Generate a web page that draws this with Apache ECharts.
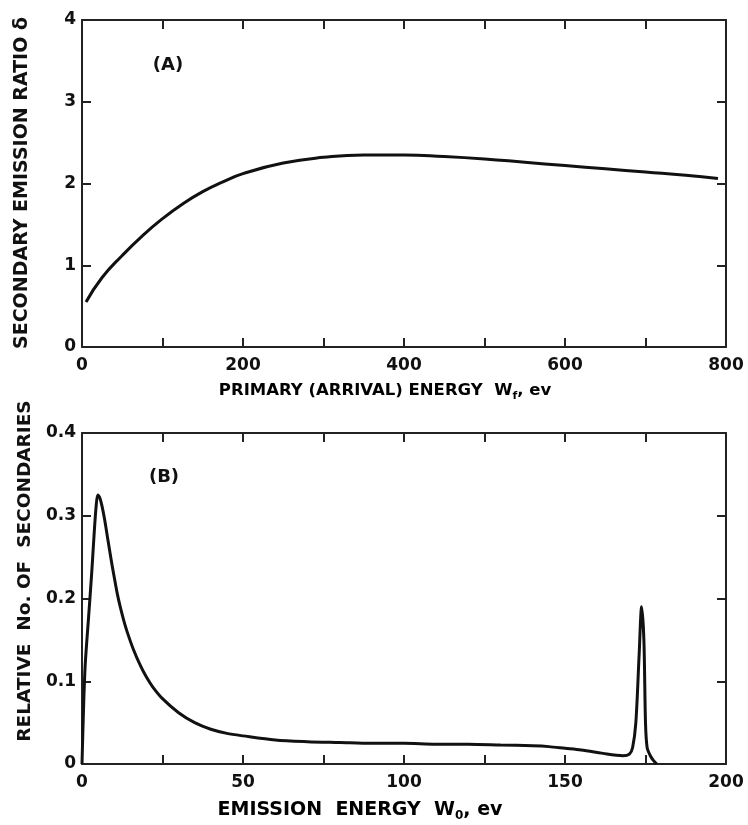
<!DOCTYPE html>
<html><head><meta charset="utf-8">
<script src="https://cdn.jsdelivr.net/npm/echarts@6/dist/echarts.min.js"></script>
<style>html,body{margin:0;padding:0;background:#fff}#c{width:748px;height:825px}</style>
</head><body><div id="c"></div>
<script>
// Panel A: secondary emission ratio vs primary energy
var energyA = [5, 25, 50, 75, 100, 125, 150, 175, 200, 250, 300, 350, 400, 450, 500, 550, 600, 650, 700, 750, 790];
var deltaA  = [0.55, 0.85, 1.12, 1.36, 1.57, 1.75, 1.9, 2.02, 2.12, 2.25, 2.32, 2.35, 2.35, 2.33, 2.3, 2.26, 2.22, 2.18, 2.14, 2.1, 2.06];
// Panel B: energy distribution of secondaries
var energyB = [0, 0.5, 1, 2, 3, 3.8, 4.4, 4.9, 5.5, 6.2, 7, 8, 9, 10, 11, 12, 13, 14, 16, 18, 20, 22, 25, 30, 35, 40, 45, 50, 60, 70, 80, 90, 100, 110, 120, 130, 140, 145, 150, 155, 160, 163, 166, 168, 170, 171, 172, 173, 173.8, 174.5, 175, 175.5, 176.5, 177.5, 178.5];
var countB  = [0, 0.07, 0.12, 0.175, 0.23, 0.28, 0.312, 0.325, 0.322, 0.312, 0.296, 0.272, 0.248, 0.226, 0.205, 0.188, 0.173, 0.16, 0.138, 0.12, 0.105, 0.093, 0.079, 0.062, 0.05, 0.042, 0.037, 0.034, 0.029, 0.027, 0.026, 0.025, 0.025, 0.024, 0.024, 0.023, 0.022, 0.021, 0.019, 0.017, 0.014, 0.012, 0.0105, 0.01, 0.012, 0.02, 0.05, 0.13, 0.19, 0.15, 0.05, 0.02, 0.01, 0.004, 0];
var ticksAx = [0, 200, 400, 600, 800];
var ticksBx = [0, 50, 100, 150, 200];

function pairs(x, y){ return x.map(function(v,i){return [v, y[i]];}); }

var FONT = 'DejaVu Sans';
var lab = {color:'#111', fontFamily:FONT, fontWeight:'bold', fontSize:17};
var axLine = {show:true, onZero:false, lineStyle:{color:'#222', width:2}};
var tick = {show:true, inside:true, length:9, lineStyle:{color:'#222', width:2}};

function xAxes(grid, max, interval, labelled){
  return [
    {type:'value', gridIndex:grid, min:0, max:max, interval:interval, position:'bottom',
     axisLine:axLine, axisTick:tick, splitLine:{show:false},
     axisLabel:Object.assign({margin:10, formatter:function(v){return labelled.indexOf(v)>=0 ? String(v) : '';}}, lab)},
    {type:'value', gridIndex:grid, min:0, max:max, interval:interval, position:'top',
     axisLine:axLine, axisTick:tick, splitLine:{show:false}, axisLabel:{show:false}}
  ];
}
function yAxes(grid, max, interval){
  return [
    {type:'value', gridIndex:grid, min:0, max:max, interval:interval, position:'left',
     axisLine:axLine, axisTick:tick, splitLine:{show:false},
     axisLabel:Object.assign({margin:6}, lab)},
    {type:'value', gridIndex:grid, min:0, max:max, interval:interval, position:'right',
     axisLine:axLine, axisTick:tick, splitLine:{show:false}, axisLabel:{show:false}}
  ];
}

function rich(size){
  return {
    t:{fontFamily:FONT, fontWeight:'bold', fontSize:size, color:'#111'},
    s:{fontFamily:FONT, fontWeight:'bold', fontSize:Math.round(size*0.65), color:'#111', padding:[Math.round(size*0.6),0,0,0]}
  };
}

var chart = echarts.init(document.getElementById('c'));
chart.setOption({
  animation:false,
  backgroundColor:'#fff',
  grid:[
    {left:82, top:20, width:644, height:327},
    {left:82, top:433, width:644, height:331}
  ],
  xAxis: xAxes(0, 800, 100, ticksAx).concat(xAxes(1, 200, 25, ticksBx)),
  yAxis: yAxes(0, 4, 1).concat(yAxes(1, 0.4, 0.1)),
  graphic:[
    {type:'text', x:168, y:65, style:{text:'(A)', font:'bold 18px "DejaVu Sans"', fill:'#111', align:'center', verticalAlign:'middle'}},
    {type:'text', x:164, y:477, style:{text:'(B)', font:'bold 18px "DejaVu Sans"', fill:'#111', align:'center', verticalAlign:'middle'}},
    {type:'text', x:385, y:391, style:{text:'{t|PRIMARY (ARRIVAL) ENERGY  W}{s|f}{t|, ev}', rich:rich(16.5), align:'center', verticalAlign:'middle'}},
    {type:'text', x:360, y:810, style:{text:'{t|EMISSION  ENERGY  W}{s|0}{t|, ev}', rich:rich(19), align:'center', verticalAlign:'middle'}},
    {type:'text', x:22, y:183, rotation:Math.PI/2, style:{text:'SECONDARY EMISSION RATIO δ', font:'bold 19px "DejaVu Sans"', fill:'#111', align:'center', verticalAlign:'middle'}},
    {type:'text', x:25, y:571, rotation:Math.PI/2, style:{text:'RELATIVE  No. OF  SECONDARIES', font:'bold 18.5px "DejaVu Sans"', fill:'#111', align:'center', verticalAlign:'middle'}}
  ],
  series:[
    {type:'line', xAxisIndex:0, yAxisIndex:0, data:pairs(energyA, deltaA), smooth:true, showSymbol:false,
     lineStyle:{color:'#111', width:3}},
    {type:'line', xAxisIndex:2, yAxisIndex:2, data:pairs(energyB, countB), smooth:0.3, showSymbol:false,
     lineStyle:{color:'#111', width:3}}
  ]
});
</script></body></html>
